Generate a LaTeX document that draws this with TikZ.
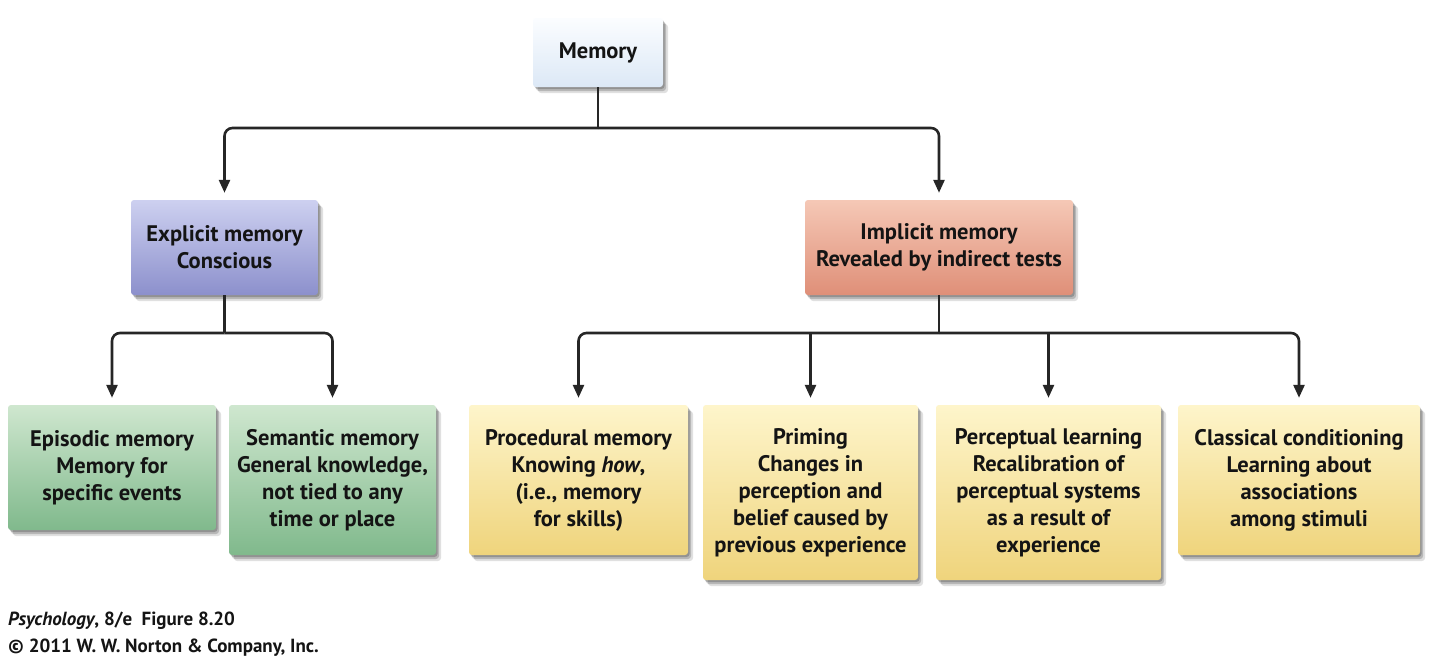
\documentclass[tikz,border=0pt]{standalone}
\usepackage{fontspec}
\setmainfont{PT Sans}
\usetikzlibrary{arrows.meta,shadows}
\definecolor{txt}{HTML}{141414}
\definecolor{lnk}{HTML}{262626}
\definecolor{memT}{HTML}{FBFDFF}
\definecolor{memB}{HTML}{DCE8F6}
\definecolor{expT}{HTML}{CDD0F0}
\definecolor{expB}{HTML}{8C90CC}
\definecolor{impT}{HTML}{F5C8B6}
\definecolor{impB}{HTML}{DF8F78}
\definecolor{grnT}{HTML}{CFE7CF}
\definecolor{grnB}{HTML}{80B98C}
\definecolor{ylwT}{HTML}{FEF5CB}
\definecolor{ylwB}{HTML}{EFD47C}
\begin{document}
\begin{tikzpicture}[x=1pt,y=-1pt,
  box/.style={rounded corners=3pt, align=center, inner sep=0pt,
    text=txt, font=\bfseries\fontsize{22.5}{27}\selectfont,
    drop shadow={shadow xshift=5pt, shadow yshift=-6pt, opacity=0.12, fill=black},
    drop shadow={shadow xshift=3pt, shadow yshift=-4pt, opacity=0.18, fill=black},
    drop shadow={shadow xshift=1.5pt, shadow yshift=-2pt, opacity=0.2, fill=black}},
  membox/.style={box, top color=memT, bottom color=memB},
  expbox/.style={box, top color=expT, bottom color=expB},
  impbox/.style={box, top color=impT, bottom color=impB},
  grnbox/.style={box, top color=grnT, bottom color=grnB},
  ylwbox/.style={box, top color=ylwT, bottom color=ylwB},
  conn/.style={draw=lnk, line width=2.6pt},
  arr/.style={conn, rounded corners=8pt, -{Triangle[length=13pt,width=11pt]}, shorten >=7pt},
  foot/.style={anchor=west, inner sep=0pt, text=txt, font=\bfseries\fontsize{19}{22}\selectfont}
]
\useasboundingbox (0,0) rectangle (1440,665);
\fill[white] (0,0) rectangle (1440,665);

\node[membox, minimum width=130pt, minimum height=69pt] (mem) at (598,52.5) {Memory};
\node[expbox, minimum width=187pt, minimum height=95pt] (exp) at (224.5,247.5) {Explicit memory\\Conscious};
\node[impbox, minimum width=268pt, minimum height=95pt] (imp) at (939,247.5) {Implicit memory\\Revealed by indirect tests};

\node[grnbox, minimum width=208pt, minimum height=125pt] (epi) at (112,467.5) {Episodic memory\\Memory for\\specific events};
\node[grnbox, minimum width=207pt, minimum height=150pt] (sem) at (332.5,480) {Semantic memory\\General knowledge,\\not tied to any\\time or place};
\node[ylwbox, minimum width=219pt, minimum height=150pt] (proc) at (578.5,480) {Procedural memory\\Knowing \textit{how},\\(i.e., memory\\for skills)};
\node[ylwbox, minimum width=215pt, minimum height=175pt] (prim) at (810.5,492.5) {Priming\\Changes in\\perception and\\belief caused by\\previous experience};
\node[ylwbox, minimum width=225pt, minimum height=175pt] (perc) at (1048.5,492.5) {Perceptual learning\\Recalibration of\\perceptual systems\\as a result of\\experience};
\node[ylwbox, minimum width=242pt, minimum height=150pt] (clas) at (1299,480) {Classical conditioning\\Learning about\\associations\\among stimuli};

\coordinate (j1) at (598,128);
\coordinate (j2) at (224.5,333);
\coordinate (j3) at (939,333);

\draw[conn] (mem.south) -- (j1);
\draw[arr] (j1) -| (exp.north);
\draw[arr] (j1) -| (imp.north);

\draw[conn] (exp.south) -- (j2);
\draw[arr] (j2) -| (epi.north);
\draw[arr] (j2) -| (sem.north);

\draw[conn] (imp.south) -- (j3);
\draw[arr] (j3) -| (proc.north);
\draw[arr] (j3) -| (clas.north);
\draw[arr] (j3 -| prim.north) -- (prim.north);
\draw[arr] (j3 -| perc.north) -- (perc.north);

\node[foot] (f1) at (8,621) {\textit{Psychology}, 8/e\enspace Figure 8.20};
\node[foot] (f2) at (8,648) {© 2011 W. W. Norton \& Company, Inc.};
\end{tikzpicture}
\end{document}
